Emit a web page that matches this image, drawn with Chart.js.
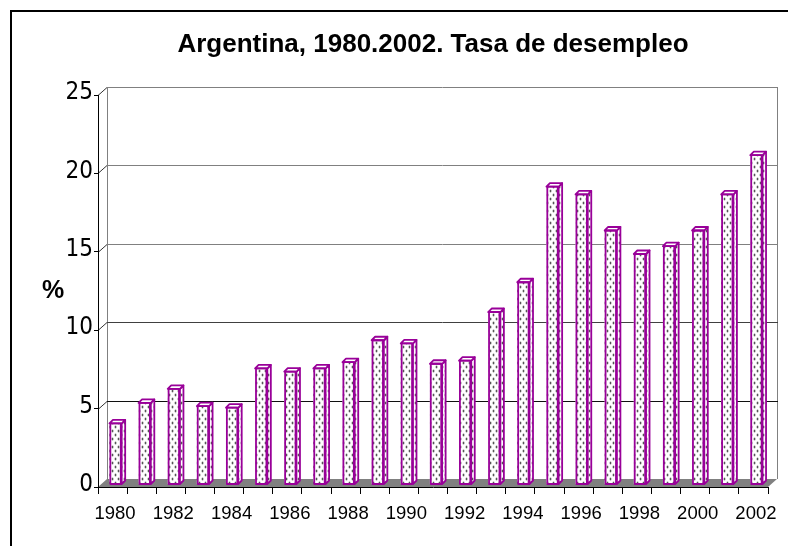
<!DOCTYPE html>
<html><head><meta charset="utf-8">
<script src="https://cdn.jsdelivr.net/npm/chart.js@4.4.1/dist/chart.umd.min.js"></script>
<style>html,body{margin:0;padding:0;background:#fff}canvas{display:block}</style>
</head><body>
<canvas id="c" width="788" height="546"></canvas>
<script>
// ---- data ----
const years = ['1980','1981','1982','1983','1984','1985','1986','1987','1988','1989','1990','1991',
               '1992','1993','1994','1995','1996','1997','1998','1999','2000','2001','2002'];
const unemployment = [3.9, 5.2, 6.1, 5.0, 4.9, 7.4, 7.2, 7.4, 7.8, 9.2, 9.0, 7.7,
                      7.9, 11.0, 12.9, 19.0, 18.5, 16.2, 14.7, 15.2, 16.2, 18.5, 21.0];
const yTickValues = [0, 5, 10, 15, 20, 25];
const titleText = 'Argentina, 1980.2002. Tasa de desempleo';
const yAxisLabel = '%';

// ---- style ----
const FONT = "'Liberation Sans', Arial, Helvetica, sans-serif";
const NARROW = "'Liberation Sans Narrow', 'Arial Narrow', 'DejaVu Sans Condensed', sans-serif";
const PURPLE = '#990099';
const WALL_DX = 9, WALL_DY = 8;
const BAR_SHIFT_X = 3, BAR_SHIFT_Y = 2.5;
const BAR_DEPTH = 3.5;
const gridColor = v => (v >= 15 ? '#808080' : (v >= 10 ? '#404040' : '#101010'));

const canvas = document.getElementById('c');
const ctx0 = canvas.getContext('2d');
function makeDots(ctx) {
  const c = document.createElement('canvas'); c.width = 6; c.height = 8;
  const g = c.getContext('2d');
  g.fillStyle = '#fff'; g.fillRect(0, 0, 6, 8);
  g.fillStyle = '#111';
  g.beginPath(); g.arc(1.5, 1.5, 0.9, 0, Math.PI * 2); g.fill();
  g.beginPath(); g.arc(4.5, 5.5, 0.9, 0, Math.PI * 2); g.fill();
  return ctx.createPattern(c, 'repeat');
}
const dots = makeDots(ctx0);

const threeD = {
  id: 'threeD',
  beforeDraw(chart) {
    const ctx = chart.ctx, ca = chart.chartArea, ys = chart.scales.y;
    ctx.save();
    // outer frame
    ctx.fillStyle = '#000';
    ctx.fillRect(10, 10, 800, 2);
    ctx.fillRect(10, 10, 2, 560);
    const L = ca.left, R = ca.right, B = ys.getPixelForValue(0), T = ys.getPixelForValue(25);
    // floor
    ctx.fillStyle = '#808080';
    ctx.beginPath();
    ctx.moveTo(L, B); ctx.lineTo(R, B); ctx.lineTo(R + WALL_DX, B - WALL_DY); ctx.lineTo(L + WALL_DX, B - WALL_DY);
    ctx.closePath(); ctx.fill();
    ctx.lineWidth = 1;
    // back wall verticals
    ctx.strokeStyle = '#808080';
    ctx.beginPath();
    ctx.moveTo(L + WALL_DX + 0.5, T - WALL_DY); ctx.lineTo(L + WALL_DX + 0.5, B - WALL_DY);
    ctx.moveTo(R + WALL_DX + 0.5, T - WALL_DY); ctx.lineTo(R + WALL_DX + 0.5, B - WALL_DY);
    ctx.stroke();
    // gridlines on back wall + connectors on side wall
    yTickValues.forEach(v => {
      if (v === 0) return;
      const y = Math.round(ys.getPixelForValue(v));
      ctx.strokeStyle = '#333';
      ctx.beginPath(); ctx.moveTo(L, y + 0.5); ctx.lineTo(L + WALL_DX, y - WALL_DY + 0.5); ctx.stroke();
      ctx.strokeStyle = gridColor(v);
      ctx.beginPath(); ctx.moveTo(L + WALL_DX, y - WALL_DY + 0.5); ctx.lineTo(R + WALL_DX + 1, y - WALL_DY + 0.5); ctx.stroke();
    });
    ctx.restore();
  },
  beforeDatasetsDraw(chart) {
    chart.ctx.save();
    chart.ctx.translate(BAR_SHIFT_X, -BAR_SHIFT_Y);
  },
  afterDatasetsDraw(chart) {
    const ctx = chart.ctx;
    const meta = chart.getDatasetMeta(0);
    ctx.lineWidth = 1.8;
    ctx.strokeStyle = PURPLE;
    ctx.lineJoin = 'round';
    meta.data.forEach(bar => {
      const p = bar.getProps(['x', 'y', 'base', 'width'], true);
      const l = p.x - p.width / 2, r = p.x + p.width / 2, t = p.y, b = p.base, d = BAR_DEPTH;
      // side face
      ctx.fillStyle = dots;
      ctx.beginPath();
      ctx.moveTo(r, t); ctx.lineTo(r + d, t - d); ctx.lineTo(r + d, b - d); ctx.lineTo(r, b); ctx.closePath();
      ctx.fill(); ctx.stroke();
      // top face
      ctx.fillStyle = '#fff';
      ctx.beginPath();
      ctx.moveTo(l, t); ctx.lineTo(l + d, t - d); ctx.lineTo(r + d, t - d); ctx.lineTo(r, t); ctx.closePath();
      ctx.fill(); ctx.stroke();
      // front outline
      ctx.strokeRect(l + 0.9, t, p.width - 1.8, b - t);
    });
    ctx.restore();
  },
  afterDraw(chart) {
    const ctx = chart.ctx;
    ctx.save();
    ctx.fillStyle = '#000';
    ctx.font = 'bold 25px ' + FONT;
    ctx.textAlign = 'center';
    ctx.textBaseline = 'middle';
    ctx.fillText(yAxisLabel, 53, 291);
    ctx.restore();
  }
};

new Chart(canvas, {
  type: 'bar',
  data: {
    labels: years,
    datasets: [{
      data: unemployment,
      backgroundColor: dots,
      borderColor: PURPLE,
      borderWidth: 0,
      barPercentage: 0.42,
      categoryPercentage: 1.0,
      clip: false
    }]
  },
  options: {
    responsive: false,
    animation: false,
    events: [],
    layout: { padding: { left: 0, right: 20, top: 0, bottom: 0 } },
    plugins: {
      legend: { display: false },
      tooltip: { enabled: false },
      title: {
        display: true,
        text: titleText,
        color: '#000',
        fullSize: false,
        font: { family: FONT, size: 26, weight: 'bold', lineHeight: 1.2 },
        padding: { top: 29, bottom: 34.8 }
      }
    },
    scales: {
      x: {
        type: 'category',
        offset: true,
        grid: { display: true, offset: true, drawOnChartArea: false, drawTicks: true, tickLength: 7, color: '#000', lineWidth: 1 },
        border: { display: true, color: '#000', width: 1 },
        ticks: {
          autoSkip: false, maxRotation: 0, minRotation: 0, padding: 9, labelOffset: 2.5,
          color: '#000', font: { family: FONT, size: 18.5 },
          callback: (v, i) => (i % 2 === 0 ? years[i] : '')
        },
        afterFit: s => { s.height = 59; }
      },
      y: {
        min: 0, max: 25,
        afterBuildTicks: s => { s.ticks = yTickValues.map(v => ({ value: v })); },
        grid: { drawOnChartArea: false, tickLength: 4, color: '#000' },
        border: { display: true, color: '#000', width: 1 },
        ticks: { padding: 1, labelOffset: -2, color: '#000', font: { family: NARROW, size: 24 } },
        afterFit: s => { s.width = 98; }
      }
    }
  },
  plugins: [threeD]
});
</script>
</body></html>
